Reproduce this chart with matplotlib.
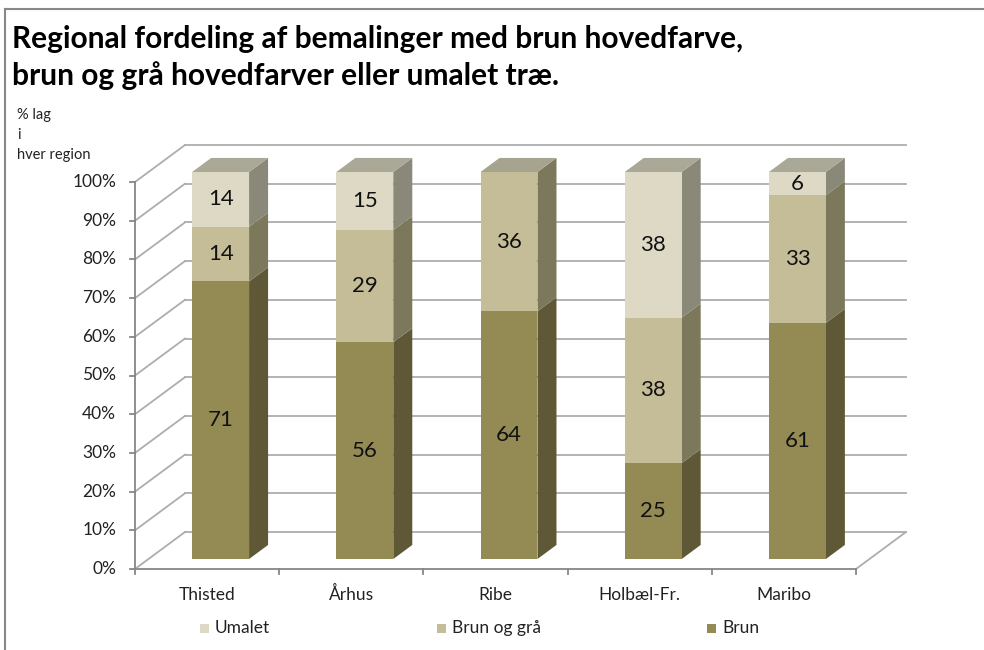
import numpy as np
import matplotlib.pyplot as plt
from matplotlib.patches import Polygon

plt.rcParams['font.family'] = ['Lato', 'DejaVu Sans']

regions = ['Thisted', 'Århus', 'Ribe', 'Holbæl-Fr.', 'Maribo']
brun = [71, 56, 64, 25, 61]
brun_graa = [14, 29, 36, 38, 33]
umalet = [14, 15, 0, 38, 6]
series_names = ['Umalet', 'Brun og grå', 'Brun']
yticks = np.arange(0, 101, 10)

# front, side, top colours for each series (bottom to top)
front_col = ['#948a54', '#c4bd97', '#ddd9c4']
side_col = ['#5e5836', '#7c785b', '#8a8878']
top_col = ['#8f8a6a', '#a6a48e', '#aaa896']

W, H = 984, 650
fig = plt.figure(figsize=(W / 100, H / 100), dpi=100)
# front plane of the 3d box, in pixels
x0, x1, yb, yt = 135, 856, 569, 182
ax = fig.add_axes([x0 / W, 1 - yb / H, (x1 - x0) / W, (yb - yt) / H])
ax.set_xlim(-0.5, 4.5)
ax.set_ylim(0, 100)
ax.axis('off')

# depth offset of the back wall in data units
DX = 50 / ((x1 - x0) / 5)
DY = 37 / ((yb - yt) / 100)


def P(x, y, d):
    return (x + d * DX, y + d * DY)


grid_c = '#adadad'
axis_c = '#868686'
kw = dict(clip_on=False, lw=1.3)
for v in yticks:
    a, b = P(-0.5, v, 1), P(4.5, v, 1)
    ax.plot([a[0], b[0]], [a[1], b[1]], color=grid_c, **kw)
    c = P(-0.5, v, 0)
    ax.plot([c[0], a[0]], [c[1], a[1]], color=grid_c, **kw)
# floor
f1, f2 = P(4.5, 0, 0), P(4.5, 0, 1)
ax.plot([f1[0], f2[0]], [f1[1], f2[1]], color=grid_c, **kw)
ax.plot([-0.5, 4.5], [0, 0], color=axis_c, **kw)
ax.plot([-0.5, -0.5], [0, 100], color=axis_c, **kw)
tx = 5 / ((x1 - x0) / 5)
ty = 5 / ((yb - yt) / 100)
for v in yticks:
    ax.plot([-0.5 - tx, -0.5], [v, v], color=axis_c, **kw)
    ax.text(-0.5 - 3.8 * tx, v, f'{v}%', ha='right', va='center',
            fontsize=12.5, color='#222222')
for b in np.arange(-0.5, 4.6, 1):
    ax.plot([b, b], [0, -ty], color=axis_c, **kw)
for i, r in enumerate(regions):
    ax.text(i, -6.6, r, ha='center', va='center', fontsize=12.5,
            color='#222222')

# bars
d0, d1 = 0.27, 0.65
bw = 0.395
stack = np.array([brun, brun_graa, umalet], dtype=float)
pct = stack / stack.sum(axis=0) * 100
for i in range(len(regions)):
    xl, xr = i - bw / 2, i + bw / 2
    base = 0.0
    segs = [(k, pct[k, i]) for k in range(3) if pct[k, i] > 0]
    for n, (k, h) in enumerate(segs):
        y0_, y1_ = base, base + h
        front = [P(xl, y0_, d0), P(xr, y0_, d0), P(xr, y1_, d0), P(xl, y1_, d0)]
        side = [P(xr, y0_, d0), P(xr, y0_, d1), P(xr, y1_, d1), P(xr, y1_, d0)]
        ax.add_patch(Polygon(side, closed=True, fc=side_col[k], ec='none',
                             clip_on=False, zorder=3))
        ax.add_patch(Polygon(front, closed=True, fc=front_col[k], ec='none',
                             clip_on=False, zorder=3))
        if n == len(segs) - 1:
            top = [P(xl, y1_, d0), P(xr, y1_, d0), P(xr, y1_, d1), P(xl, y1_, d1)]
            ax.add_patch(Polygon(top, closed=True, fc=top_col[k], ec='none',
                                 clip_on=False, zorder=3))
        mx, my = P(i, (y0_ + y1_) / 2, d0)
        ax.text(mx, my, f'{int(stack[k, i])}', ha='center', va='center',
                fontsize=16, color='#111111', zorder=5)
        base = y1_

# legend
leg_x = [200, 437, 707]
leg_c = [front_col[2], front_col[1], front_col[0]]
for lx, name, c in zip(leg_x, series_names, leg_c):
    fig.patches.append(plt.Rectangle((lx / W, 1 - 633 / H), 9 / W, 9 / H,
                                     transform=fig.transFigure, fc=c, ec='none'))
    fig.text((lx + 15) / W, 1 - 628 / H, name, ha='left', va='center',
             fontsize=12.5, color='#222222')

# titles
fig.text(12 / W, 1 - 39 / H, 'Regional fordeling af bemalinger med brun hovedfarve,',
         fontsize=21.5, fontweight='bold', va='center', ha='left')
fig.text(12 / W, 1 - 76 / H, 'brun og grå hovedfarver eller umalet træ.',
         fontsize=21.5, fontweight='bold', va='center', ha='left')
for k, s in enumerate(['% lag', 'i', 'hver region']):
    fig.text(17 / W, 1 - (115 + 20 * k) / H, s, fontsize=10.5, va='center',
             ha='left', color='#222222')

# outer frame (top and left edges)
fig.add_artist(plt.Line2D([5 / W, 1], [1 - 9 / H, 1 - 9 / H], color='#888888', lw=1.5))
fig.add_artist(plt.Line2D([5 / W, 5 / W], [1 - 9 / H, 0], color='#888888', lw=1.5))

fig.savefig('out.png', dpi=100)
